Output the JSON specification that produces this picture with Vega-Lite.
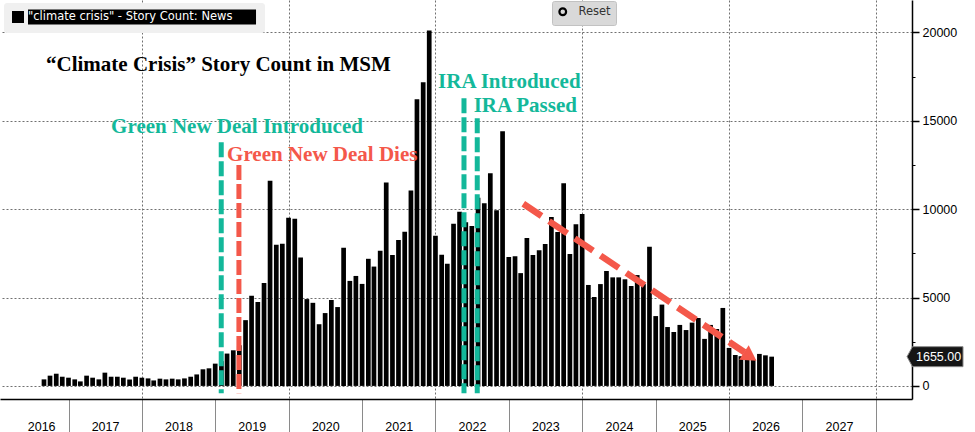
{
  "$schema": "https://vega.github.io/schema/vega-lite/v6.json",
  "width": 912,
  "height": 399,
  "autosize": {"type": "none"},
  "padding": {"left": 0, "top": 0, "right": 63, "bottom": 33},
  "background": "#ffffff",
  "config": {"view": {"stroke": null}},
  "title": {
    "text": "“Climate Crisis” Story Count in MSM",
    "anchor": "start",
    "frame": "group",
    "orient": "top",
    "offset": -92,
    "baseline": "alphabetic",
    "dx": 46,
    "font": "Liberation Serif",
    "fontSize": 21,
    "fontWeight": "bold",
    "color": "#000000"
  },
  "datasets": {
    "counts": [
      {"d": "2016-09-01", "v": 370}, {"d": "2016-10-01", "v": 580}, {"d": "2016-11-01", "v": 690}, {"d": "2016-12-01", "v": 520},
      {"d": "2017-01-01", "v": 465}, {"d": "2017-02-01", "v": 370}, {"d": "2017-03-01", "v": 255}, {"d": "2017-04-01", "v": 580},
      {"d": "2017-05-01", "v": 465}, {"d": "2017-06-01", "v": 370}, {"d": "2017-07-01", "v": 750}, {"d": "2017-08-01", "v": 520},
      {"d": "2017-09-01", "v": 520}, {"d": "2017-10-01", "v": 465}, {"d": "2017-11-01", "v": 370}, {"d": "2017-12-01", "v": 520},
      {"d": "2018-01-01", "v": 465}, {"d": "2018-02-01", "v": 425}, {"d": "2018-03-01", "v": 310}, {"d": "2018-04-01", "v": 410},
      {"d": "2018-05-01", "v": 370}, {"d": "2018-06-01", "v": 410}, {"d": "2018-07-01", "v": 370}, {"d": "2018-08-01", "v": 425},
      {"d": "2018-09-01", "v": 520}, {"d": "2018-10-01", "v": 650}, {"d": "2018-11-01", "v": 940}, {"d": "2018-12-01", "v": 995},
      {"d": "2019-01-01", "v": 1260}, {"d": "2019-02-01", "v": 1400}, {"d": "2019-03-01", "v": 1830}, {"d": "2019-04-01", "v": 2015},
      {"d": "2019-05-01", "v": 2300}, {"d": "2019-06-01", "v": 3720}, {"d": "2019-07-01", "v": 5100}, {"d": "2019-08-01", "v": 4740},
      {"d": "2019-09-01", "v": 5820}, {"d": "2019-10-01", "v": 11600}, {"d": "2019-11-01", "v": 7980}, {"d": "2019-12-01", "v": 8040},
      {"d": "2020-01-01", "v": 9510}, {"d": "2020-02-01", "v": 9460}, {"d": "2020-03-01", "v": 7260}, {"d": "2020-04-01", "v": 4910},
      {"d": "2020-05-01", "v": 4700}, {"d": "2020-06-01", "v": 3490}, {"d": "2020-07-01", "v": 4120}, {"d": "2020-08-01", "v": 4860},
      {"d": "2020-09-01", "v": 4460}, {"d": "2020-10-01", "v": 7810}, {"d": "2020-11-01", "v": 5940}, {"d": "2020-12-01", "v": 6220},
      {"d": "2021-01-01", "v": 5770}, {"d": "2021-02-01", "v": 7190}, {"d": "2021-03-01", "v": 6750}, {"d": "2021-04-01", "v": 7640},
      {"d": "2021-05-01", "v": 11500}, {"d": "2021-06-01", "v": 7410}, {"d": "2021-07-01", "v": 8260}, {"d": "2021-08-01", "v": 8720},
      {"d": "2021-09-01", "v": 11050}, {"d": "2021-10-01", "v": 16220}, {"d": "2021-11-01", "v": 17180}, {"d": "2021-12-01", "v": 20100},
      {"d": "2022-01-01", "v": 8490}, {"d": "2022-02-01", "v": 7420}, {"d": "2022-03-01", "v": 6910}, {"d": "2022-04-01", "v": 9170},
      {"d": "2022-05-01", "v": 9850}, {"d": "2022-06-01", "v": 9260}, {"d": "2022-07-01", "v": 9040}, {"d": "2022-08-01", "v": 10650},
      {"d": "2022-09-01", "v": 10330}, {"d": "2022-10-01", "v": 12030}, {"d": "2022-11-01", "v": 9940}, {"d": "2022-12-01", "v": 14400},
      {"d": "2023-01-01", "v": 7290}, {"d": "2023-02-01", "v": 7340}, {"d": "2023-03-01", "v": 6380}, {"d": "2023-04-01", "v": 8360},
      {"d": "2023-05-01", "v": 7400}, {"d": "2023-06-01", "v": 7680}, {"d": "2023-07-01", "v": 8020}, {"d": "2023-08-01", "v": 9550},
      {"d": "2023-09-01", "v": 8700}, {"d": "2023-10-01", "v": 11470}, {"d": "2023-11-01", "v": 7460}, {"d": "2023-12-01", "v": 9150},
      {"d": "2024-01-01", "v": 9720}, {"d": "2024-02-01", "v": 5710}, {"d": "2024-03-01", "v": 5030}, {"d": "2024-04-01", "v": 5760},
      {"d": "2024-05-01", "v": 6500}, {"d": "2024-06-01", "v": 6140}, {"d": "2024-07-01", "v": 6140}, {"d": "2024-08-01", "v": 6030},
      {"d": "2024-09-01", "v": 5650}, {"d": "2024-10-01", "v": 6270}, {"d": "2024-11-01", "v": 5760}, {"d": "2024-12-01", "v": 7870},
      {"d": "2025-01-01", "v": 3950}, {"d": "2025-02-01", "v": 4600}, {"d": "2025-03-01", "v": 3330}, {"d": "2025-04-01", "v": 3050},
      {"d": "2025-05-01", "v": 3450}, {"d": "2025-06-01", "v": 3160}, {"d": "2025-07-01", "v": 3580}, {"d": "2025-08-01", "v": 3840},
      {"d": "2025-09-01", "v": 2660}, {"d": "2025-10-01", "v": 3450}, {"d": "2025-11-01", "v": 3220}, {"d": "2025-12-01", "v": 4410},
      {"d": "2026-01-01", "v": 2150}, {"d": "2026-02-01", "v": 1750}, {"d": "2026-03-01", "v": 1680}, {"d": "2026-04-01", "v": 1500},
      {"d": "2026-05-01", "v": 1500}, {"d": "2026-06-01", "v": 1810}, {"d": "2026-07-01", "v": 1730}, {"d": "2026-08-01", "v": 1655}
    ],
    "events": [
      {"kind": "pro", "event": "Green New Deal Introduced", "d": "2019-01-31", "top": 13780},
      {"kind": "con", "event": "Green New Deal Dies", "d": "2019-04-29", "top": 12500},
      {"kind": "pro", "event": "IRA Introduced", "d": "2022-05-23", "top": 16270},
      {"kind": "pro", "event": "IRA Passed", "d": "2022-07-28", "top": 15140}
    ],
    "notes": [
      {"kind": "pro", "label": "Green New Deal Introduced", "d": "2017-08-01", "v": 14328},
      {"kind": "con", "label": "Green New Deal Dies", "d": "2019-03-01", "v": 12728},
      {"kind": "pro", "label": "IRA Introduced", "d": "2022-01-14", "v": 16837},
      {"kind": "pro", "label": "IRA Passed", "d": "2022-07-10", "v": 15480}
    ],
    "trend": [
      {"d": "2023-03-14", "v": 10300},
      {"d": "2026-03-19", "v": 1905}
    ],
    "trendHead": [{"d": "2026-04-16", "v": 1656}],
    "last": [{"v": 1655}],
    "button": [{"b": "Reset"}]
  },
  "layer": [
    {
      "data": {"name": "counts"},
      "mark": {"type": "bar", "size": 4.7, "color": "#000000"},
      "encoding": {
        "x": {
          "field": "d",
          "type": "temporal",
          "scale": {
            "type": "utc",
            "domain": [
              {"year": 2016, "month": 2, "date": 20, "utc": true},
              {"year": 2028, "month": 6, "date": 4, "hours": 12, "utc": true}
            ]
          },
          "axis": {
            "orient": "bottom",
            "title": null,
            "values": [
              {"year": 2017, "month": 1, "date": 1, "utc": true},
              {"year": 2018, "month": 1, "date": 1, "utc": true},
              {"year": 2019, "month": 1, "date": 1, "utc": true},
              {"year": 2020, "month": 1, "date": 1, "utc": true},
              {"year": 2021, "month": 1, "date": 1, "utc": true},
              {"year": 2022, "month": 1, "date": 1, "utc": true},
              {"year": 2023, "month": 1, "date": 1, "utc": true},
              {"year": 2024, "month": 1, "date": 1, "utc": true},
              {"year": 2025, "month": 1, "date": 1, "utc": true},
              {"year": 2026, "month": 1, "date": 1, "utc": true},
              {"year": 2027, "month": 1, "date": 1, "utc": true},
              {"year": 2028, "month": 1, "date": 1, "utc": true}
            ],
            "labels": false,
            "grid": false,
            "tickSize": 33,
            "tickColor": "#8a8a8a",
            "tickWidth": 1,
            "domainColor": "#000000",
            "domainWidth": 1.5
          }
        },
        "y": {
          "field": "v",
          "type": "quantitative",
          "scale": {"domain": [-740, 21828], "nice": false, "zero": false},
          "axis": {
            "orient": "right",
            "title": null,
            "values": [0, 5000, 10000, 15000, 20000],
            "format": "d",
            "tickSize": 7,
            "tickWidth": 1.5,
            "tickColor": "#000000",
            "domainColor": "#000000",
            "domainWidth": 1.5,
            "grid": true,
            "gridDash": [2, 2],
            "gridColor": "#707070",
            "gridWidth": 1,
            "labelPadding": 3,
            "labelFont": "Liberation Sans",
            "labelFontSize": 12.5,
            "labelColor": "#000000"
          }
        },
        "y2": {"datum": 0},
        "color": {
          "datum": "\"climate crisis\" - Story Count: News",
          "type": "nominal",
          "scale": {"range": ["#000000"]},
          "legend": {
            "orient": "none",
            "legendX": 4,
            "legendY": 3,
            "title": null,
            "padding": 8,
            "fillColor": "#f0f0f0",
            "cornerRadius": 3,
            "symbolType": "M-1,-1H1V1H-1ZM1.667,-1.25H39.67V1.25H1.667Z",
            "symbolSize": 144,
            "symbolStrokeWidth": 0,
            "symbolFillColor": "#000000",
            "labelColor": "#ffffff",
            "labelFont": "DejaVu Sans",
            "labelFontSize": 11.5,
            "labelOffset": 4,
            "labelLimit": 400
          }
        }
      }
    },
    {
      "data": {"name": "events"},
      "transform": [{"filter": "datum.kind === 'pro'"}],
      "mark": {"type": "rule", "color": "#13b89a", "strokeWidth": 5, "strokeDash": [15, 4]},
      "encoding": {
        "x": {
          "field": "d",
          "type": "temporal",
          "axis": {
            "orient": "bottom",
            "title": null,
            "values": [
              {"year": 2016, "month": 8, "date": 18, "utc": true},
              {"year": 2017, "month": 7, "date": 2, "utc": true},
              {"year": 2018, "month": 7, "date": 2, "utc": true},
              {"year": 2019, "month": 7, "date": 2, "utc": true},
              {"year": 2020, "month": 7, "date": 2, "utc": true},
              {"year": 2021, "month": 7, "date": 2, "utc": true},
              {"year": 2022, "month": 7, "date": 2, "utc": true},
              {"year": 2023, "month": 7, "date": 2, "utc": true},
              {"year": 2024, "month": 7, "date": 2, "utc": true},
              {"year": 2025, "month": 7, "date": 2, "utc": true},
              {"year": 2026, "month": 7, "date": 2, "utc": true},
              {"year": 2027, "month": 7, "date": 2, "utc": true}
            ],
            "labelExpr": "utcFormat(datum.value, '%Y')",
            "ticks": false,
            "domain": false,
            "grid": false,
            "labelPadding": 21,
            "labelFlush": false,
            "labelOverlap": false,
            "labelFont": "Liberation Sans",
            "labelFontSize": 12.5,
            "labelColor": "#000000"
          }
        },
        "y": {
          "field": "top",
          "type": "quantitative",
          "axis": {
            "orient": "right",
            "title": null,
            "values": [2500, 7500, 12500, 17500],
            "labels": false,
            "grid": false,
            "domain": false,
            "tickSize": 3,
            "tickWidth": 1,
            "tickColor": "#000000"
          }
        },
        "y2": {"datum": -410}
      }
    },
    {
      "data": {"name": "events"},
      "transform": [{"filter": "datum.kind === 'con'"}],
      "mark": {"type": "rule", "color": "#f4584a", "strokeWidth": 5, "strokeDash": [15, 4]},
      "encoding": {
        "x": {
          "field": "d",
          "type": "temporal",
          "axis": {
            "orient": "bottom",
            "title": null,
            "values": [
              {"year": 2018, "month": 1, "date": 1, "utc": true},
              {"year": 2020, "month": 1, "date": 1, "utc": true},
              {"year": 2022, "month": 1, "date": 1, "utc": true},
              {"year": 2024, "month": 1, "date": 1, "utc": true},
              {"year": 2026, "month": 1, "date": 1, "utc": true},
              {"year": 2028, "month": 1, "date": 1, "utc": true}
            ],
            "labels": false,
            "ticks": false,
            "domain": false,
            "grid": true,
            "gridDash": [2, 2],
            "gridColor": "#707070",
            "gridWidth": 1
          }
        },
        "y": {"field": "top", "type": "quantitative", "axis": null},
        "y2": {"datum": -410}
      }
    },
    {
      "data": {"name": "notes"},
      "transform": [{"filter": "datum.kind === 'pro'"}],
      "mark": {"type": "text", "align": "left", "baseline": "alphabetic", "font": "Liberation Serif", "fontSize": 21, "fontWeight": "bold", "color": "#13b89a"},
      "encoding": {
        "x": {"field": "d", "type": "temporal", "axis": null},
        "y": {"field": "v", "type": "quantitative", "axis": null},
        "text": {"field": "label"}
      }
    },
    {
      "data": {"name": "notes"},
      "transform": [{"filter": "datum.kind === 'con'"}],
      "mark": {"type": "text", "align": "left", "baseline": "alphabetic", "font": "Liberation Serif", "fontSize": 21, "fontWeight": "bold", "color": "#f4584a"},
      "encoding": {
        "x": {"field": "d", "type": "temporal", "axis": null},
        "y": {"field": "v", "type": "quantitative", "axis": null},
        "text": {"field": "label"}
      }
    },
    {
      "data": {"name": "trend"},
      "mark": {"type": "line", "color": "#f4584a", "strokeWidth": 6.5, "strokeDash": [22, 9], "strokeCap": "butt"},
      "encoding": {
        "x": {"field": "d", "type": "temporal", "axis": null},
        "y": {"field": "v", "type": "quantitative", "axis": null}
      }
    },
    {
      "data": {"name": "trendHead"},
      "mark": {"type": "point", "shape": "triangle-right", "angle": 33.6, "size": 300, "filled": true, "color": "#f4584a", "opacity": 1},
      "encoding": {
        "x": {"field": "d", "type": "temporal", "axis": null},
        "y": {"field": "v", "type": "quantitative", "axis": null}
      }
    },
    {
      "data": {"name": "last"},
      "mark": {"type": "point", "shape": "M0,0L0.55,-1L5.6,-1L5.6,1L0.55,1Z", "size": 400, "filled": true, "color": "#151515", "stroke": "#8a8a8a", "strokeWidth": 1, "opacity": 1},
      "encoding": {
        "x": {"datum": {"year": 2028, "month": 6, "date": 4, "hours": 12, "utc": true}, "type": "temporal", "axis": null},
        "y": {"field": "v", "type": "quantitative", "axis": null}
      }
    },
    {
      "data": {"name": "last"},
      "mark": {"type": "text", "align": "left", "baseline": "middle", "dx": 9, "font": "Liberation Sans", "fontSize": 12.5, "color": "#ffffff"},
      "encoding": {
        "x": {"datum": {"year": 2028, "month": 6, "date": 4, "hours": 12, "utc": true}, "type": "temporal", "axis": null},
        "y": {"field": "v", "type": "quantitative", "axis": null},
        "text": {"field": "v", "type": "quantitative", "format": ".2f"}
      }
    },
    {
      "data": {"name": "button"},
      "mark": {"type": "point", "opacity": 0},
      "encoding": {
        "shape": {
          "field": "b",
          "type": "nominal",
          "scale": {"range": ["circle"]},
          "legend": {
            "orient": "none",
            "legendX": 552,
            "legendY": 1,
            "title": null,
            "padding": 5,
            "fillColor": "#d9d9d9",
            "strokeColor": "#c2c2c2",
            "cornerRadius": 2,
            "symbolSize": 45,
            "symbolFillColor": "#ffffff",
            "symbolStrokeColor": "#000000",
            "symbolStrokeWidth": 2.2,
            "symbolOpacity": 1,
            "labelFont": "DejaVu Sans",
            "labelFontSize": 11.5,
            "labelColor": "#333333",
            "labelOffset": 10
          }
        }
      }
    }
  ],
  "resolve": {"axis": {"x": "independent", "y": "independent"}}
}
